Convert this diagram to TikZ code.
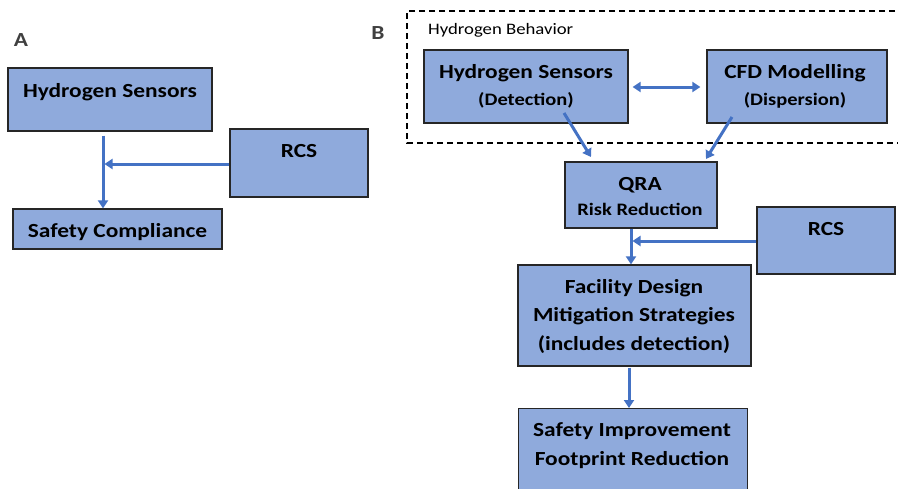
\documentclass[tikz,border=0pt]{standalone}
\usepackage{fontspec}
\setmainfont{Carlito}[FakeStretch=1.17]
\usetikzlibrary{arrows.meta}
\definecolor{boxfill}{HTML}{8FAADC}
\definecolor{arrblue}{HTML}{4472C4}
\definecolor{lblgray}{HTML}{404040}
\tikzset{
  box/.style={draw=black!85, line width=1.2pt, fill=boxfill, inner sep=0pt},
  big/.style={font=\fontsize{20}{22}\selectfont\bfseries, inner sep=0pt, anchor=base},
  small/.style={font=\fontsize{17.5}{20}\selectfont\bfseries, inner sep=0pt, anchor=base},
  arr/.style={draw=arrblue, line width=3pt, -{Triangle[length=8pt,width=10pt]}},
  darr/.style={draw=arrblue, line width=3pt, {Triangle[length=8pt,width=10pt]}-{Triangle[length=8pt,width=10pt]}},
  panel/.style={font=\fontsize{20}{22}\selectfont\bfseries, text=lblgray, inner sep=0pt, anchor=base}
}
\begin{document}
\begin{tikzpicture}[x=1pt,y=-1pt]
\useasboundingbox (0,0) rectangle (898,488);
% ---------- Panel A ----------
\node[panel] (labA) at (21,46) {A};
\node[box, minimum width=204pt, minimum height=63pt] (hsA) at (110,99.5) {};
\node[big] (hsAt) at (110,97) {Hydrogen Sensors};
\node[box, minimum width=138pt, minimum height=68pt] (rcsA) at (299,163) {};
\node[big] (rcsAt) at (299,157) {RCS};
\node[box, minimum width=209pt, minimum height=40pt] (scA) at (117.5,229) {};
\node[big] (scAt) at (117.5,237) {Safety Compliance};
\coordinate (jA) at (103,164);
\draw[arr, shorten <=4pt] (hsA.south -| jA) -- (scA.north -| jA);
\draw[arr] (rcsA.west |- jA) -- ([xshift=1.5pt]jA);
% ---------- Panel B ----------
\node[panel] (labB) at (378,39) {B};
\begin{scope}
\clip (0,0) rectangle (898,488);
\draw[black, line width=1.2pt, dash pattern=on 6pt off 4pt] (905,11) -- (407,11) -- (407,143) -- (905,143);
\end{scope}
\node[font=\fontsize{16}{19}\selectfont, inner sep=0pt, anchor=base west] (hb) at (428,34) {Hydrogen Behavior};
\node[box, minimum width=204pt, minimum height=73pt] (hsB) at (526,86.5) {};
\node[big] (hsBt1) at (526,78) {Hydrogen Sensors};
\node[small] (hsBt2) at (526,105) {(Detection)};
\node[box, minimum width=180pt, minimum height=73pt] (cfd) at (797,86.5) {};
\node[big] (cfdt1) at (795,78) {CFD Modelling};
\node[small] (cfdt2) at (795,105) {(Dispersion)};
\draw[darr, shorten <=4pt, shorten >=6pt] (hsB.east |- 0,87) -- (cfd.west |- 0,87);
\node[box, minimum width=152pt, minimum height=66pt] (qra) at (641,195) {};
\node[big] (qrat1) at (640,190) {QRA};
\node[small] (qrat2) at (640,215) {Risk Reduction};
\coordinate (hsBo) at (564,113);
\coordinate (qraL) at (591,157);
\coordinate (cfdo) at (732,117);
\coordinate (qraR) at (706,159);
\draw[arr] (hsBo) -- (qraL);
\draw[arr] (cfdo) -- (qraR);
\node[box, minimum width=138pt, minimum height=67pt] (rcsB) at (826,240.5) {};
\node[big] (rcsBt) at (826,235) {RCS};
\node[box, minimum width=233pt, minimum height=101pt] (fd) at (634.5,315.5) {};
\node[big] (fdt1) at (634,293) {Facility Design};
\node[big] (fdt2) at (634,321.5) {Mitigation Strategies};
\node[big] (fdt3) at (634,350) {(includes detection)};
\coordinate (jB) at (631,241);
\draw[arr] (qra.south -| jB) -- (fd.north -| jB);
\draw[arr] (rcsB.west |- jB) -- ([xshift=1.5pt]jB);
\node[box, minimum width=229pt, minimum height=90pt, anchor=north west] (si) at (518,408) {};
\node[big] (sit1) at (632,436.5) {Safety Improvement};
\node[big] (sit2) at (632,465) {Footprint Reduction};
\coordinate (jC) at (629,0);
\draw[arr, shorten <=1pt] (fd.south -| jC) -- (si.north -| jC);
\end{tikzpicture}
\end{document}
